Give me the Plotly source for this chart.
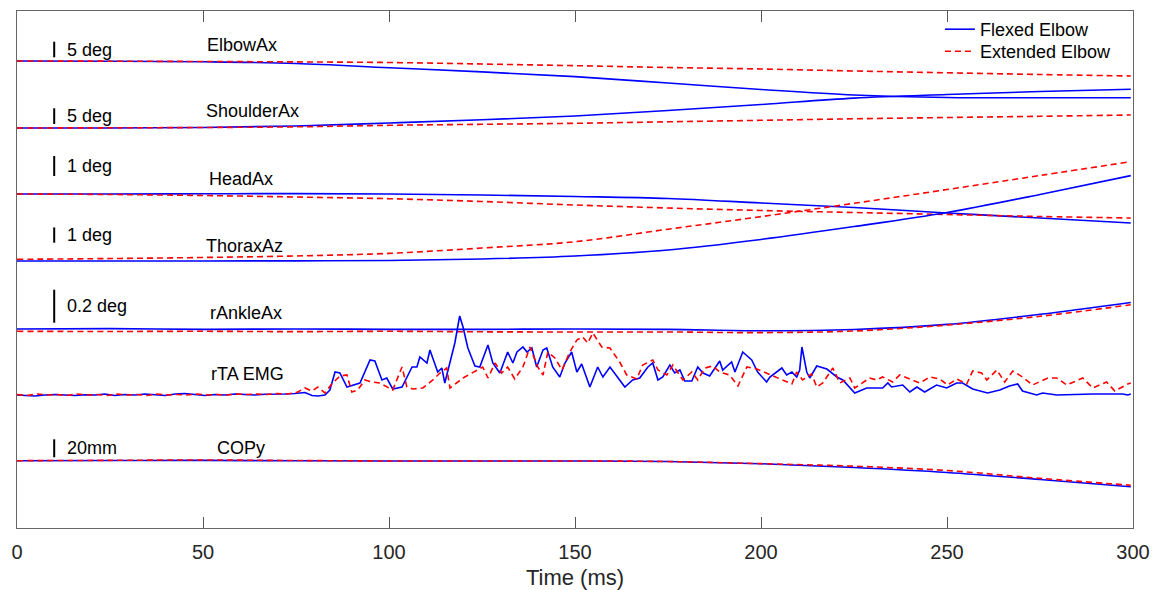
import plotly.graph_objects as go

# ---------------- data ----------------
t_ms = [0, 25, 50, 75, 100, 125, 150, 175, 200, 225, 250, 275, 299.4]

elbow_flexed = [0, -0.06, -0.26, -0.8, -2.15, -3.5, -5.0, -7.05, -9.13, -10.9, -11.7, -11.8, -11.8]
elbow_extended = [0, -0.06, -0.16, -0.29, -0.48, -0.96, -1.5, -2.08, -2.56, -3.2, -3.78, -4.33, -4.8]
shoulder_flexed = [0, 0, 0.16, 0.64, 1.59, 2.61, 3.82, 5.57, 7.48, 9.52, 10.67, 11.62, 12.33]
shoulder_extended = [0, 0.06, 0.16, 0.38, 0.86, 1.18, 1.5, 1.97, 2.45, 2.93, 3.34, 3.73, 4.14]
head_flexed = [0, 0, 0.01, 0.02, 0, -0.05, -0.125, -0.225, -0.45, -0.675, -0.95, -1.2, -1.45]
head_extended = [0, -0.025, -0.075, -0.15, -0.235, -0.375, -0.55, -0.7, -0.825, -0.925, -1.025, -1.125, -1.2]
thorax_flexed = [0, 0, 0, 0.01, 0.03, 0.13, 0.33, 0.72, 1.41, 2.25, 3.17, 4.35, 5.58]
thorax_extended = [0.11, 0.16, 0.23, 0.33, 0.5, 0.85, 1.26, 2.08, 2.9, 3.77, 4.67, 5.59, 6.49]
ankle_flexed = [0, 0.002, -0.002, 0, -0.002, -0.002, 0, -0.002, -0.011, -0.003, 0.028, 0.089, 0.161]
ankle_extended = [-0.014, -0.015, -0.014, -0.016, -0.014, -0.017, -0.018, -0.018, -0.022, -0.012, 0.024, 0.077, 0.147]
cop_flexed = [0, 0.2, 0.4, -0.1, -0.3, -0.3, -0.3, -0.9, -3.4, -7.6, -13.1, -20.9, -28.9]
cop_extended = [0, 0.4, 0.8, 0.2, -0.3, -0.3, -0.3, -0.9, -3.3, -6.1, -10.9, -19.6, -27.3]

emg_t_flexed = [
    0, 2.2, 4.8, 7.5, 10.2, 12.9, 15.6, 18.3, 21.0, 23.6,
    26.3, 29.0, 31.7, 34.4, 37.1, 39.8, 42.5, 45.1, 47.8, 50.5,
    53.2, 55.9, 58.6, 61.3, 64.0, 66.6, 69.3, 72.0, 74.7, 77.4,
    79.3, 80.9, 82.8, 84.1, 85.5, 86.8, 88.7, 92.2, 94.9, 96.2,
    98.1, 99.4, 101.0, 103.5, 106.2, 107.5, 108.3, 110.2, 111.0, 113.1,
    114.2, 115.0, 117.7, 119.0, 119.9, 121.2, 123.1, 124.4, 126.6, 127.9,
    129.8, 131.9, 133.3, 134.4, 136.0, 137.1, 138.4, 139.7, 141.4, 142.4,
    144.0, 145.9, 147.3, 149.1, 150.5, 151.8, 154.0, 156.1, 157.5, 159.4,
    161.2, 163.4, 165.5, 167.4, 169.6, 170.9, 172.3, 173.6, 175.5, 176.8,
    178.2, 179.5, 181.4, 183.0, 184.4, 186.2, 188.9, 189.7, 192.1, 193.0,
    195.1, 197.5, 199.1, 201.5, 202.4, 205.6, 206.9, 208.3, 209.6, 210.4,
    211.0, 212.3, 213.1, 215.0, 217.7, 220.4, 222.0, 225.2, 228.4, 232.7,
    234.1, 235.1, 238.1, 240.0, 241.9, 244.0, 247.2, 249.9, 252.6, 254.2,
    256.9, 260.9, 264.2, 266.8, 269.0, 270.3, 274.1, 275.7, 279.5, 289.2,
    297.2, 298.6, 299.4,
]
emg_flexed = [
    0, -0.5, -1, 0, 0.5, 0, -0.5, 0.3, 0, 1,
    -0.5, 0.5, 0, 1, 0, -0.5, 1, 1.5, 0.5, -0.5,
    0.5, 0, 1, 0.5, 0, 0.7, 0.5, 1, 1.5, 2.5,
    -0.5, -1, 0, 5, 23, 22, 8, 12, 35, 34,
    15, 17, 6, 8, 28, 28, 38, 32, 45, 23,
    27, 12, 52, 79, 68, 47, 29, 28, 50, 32,
    22, 43, 32, 43, 48, 43, 47, 28, 45, 47,
    28, 18, 32, 43, 23, 31, 8, 28, 18, 28,
    19, 8, 15, 17, 28, 32, 15, 18, 30, 22,
    25, 14, 14, 28, 22, 19, 34, 25, 33, 23,
    43, 35, 23, 13, 18, 27, 20, 23, 18, 25,
    48, 23, 17, 29, 26, 18, 15, 2, 7, 7,
    12, 8, 10, 3, 8, 3, 10, 7, 12, 12,
    6, 2, 5, 9, 11, 4, 0, 2, 0, 1,
    1, 0, 1,
]
emg_t_extended = [
    0, 2.7, 5.4, 8.1, 10.7, 13.4, 16.1, 18.8, 21.5, 24.2,
    26.9, 29.6, 32.2, 34.9, 37.6, 40.3, 43.0, 45.7, 48.4, 51.1,
    53.7, 56.4, 59.1, 61.8, 64.5, 67.2, 69.9, 72.6, 75.2, 77.4,
    79.3, 80.9, 82.8, 84.6, 86.8, 88.7, 90.0, 91.6, 93.5, 95.4,
    97.5, 101.0, 103.5, 104.8, 106.4, 109.1, 111.8, 113.7, 115.5, 116.4,
    119.9, 122.5, 125.2, 126.6, 128.5, 130.3, 131.9, 133.8, 136.0, 137.9,
    140.0, 141.4, 142.7, 144.6, 146.5, 148.6, 150.5, 152.1, 153.4, 154.8,
    157.2, 159.4, 162.0, 163.9, 166.6, 168.2, 170.9, 172.3, 174.7, 176.3,
    179.0, 181.4, 183.0, 184.9, 187.0, 188.9, 191.6, 193.8, 196.2, 198.9,
    201.5, 205.8, 208.3, 209.6, 211.2, 213.6, 215.0, 216.6, 219.3, 221.2,
    223.9, 225.2, 229.2, 231.1, 232.7, 235.4, 237.3, 240.0, 242.7, 245.4,
    248.0, 250.2, 252.6, 255.3, 256.9, 259.3, 260.7, 263.4, 265.5, 267.7,
    270.3, 273.0, 277.1, 279.5, 282.2, 286.5, 289.2, 292.9, 295.1, 298.6,
    299.4,
]
emg_extended = [
    0.5, -0.5, 1, 0, 0.5, -0.5, 1, 0, 0.5, -0.5,
    1, 0, 0.5, -0.5, 1, 0, 0.5, 0, 1, 0,
    0.5, 0, 1, 0.5, 1, 0.5, 1.5, 1, 2.5, 7,
    4, 8, 2, 11, 19, 20, 3, 5, 15, 13,
    12, 5, 28, 8, 6, 7, 15, 22, 27, 7,
    17, 22, 28, 17, 32, 22, 28, 16, 28, 48,
    28, 20, 43, 37, 25, 43, 55, 58, 52, 62,
    48, 47, 33, 20, 16, 30, 35, 25, 20, 30,
    15, 23, 15, 27, 29, 23, 20, 9, 28, 26,
    22, 15, 11, 23, 15, 21, 8, 12, 27, 12,
    17, 7, 17, 15, 18, 13, 20, 16, 12, 18,
    16, 10, 16, 11, 24, 22, 15, 25, 13, 24,
    18, 10, 17, 17, 10, 17, 7, 13, 4, 11,
    12,
]

channel_names = ["ElbowAx", "ShoulderAx", "HeadAx", "ThoraxAz", "rAnkleAx", "rTA EMG", "COPy"]
scale_values = [5, 5, 1, 1, 0.2, None, 20]
scale_labels = ["5 deg", "5 deg", "1 deg", "1 deg", "0.2 deg", None, "20mm"]
tick_values = [0, 50, 100, 150, 200, 250, 300]
series_names = ["Flexed Elbow", "Extended Elbow"]

# ---------------- layout / styling (vertical stacking in pixel-like units) ----------------
baseline = [467, 400, 334, 267, 199, 133, 67.3]
bar_len = [15.6, 15.7, 20, 15.3, 33, None, 18]
bar_gap = [3.7, 4, 18, 18.3, 6.3, None, 3.4]
label_dy = [16, 17, 14.7, 15, 15.7, 21, 12.4]
label_x = [50.6, 50.2, 51.1, 50.4, 51.4, 51.5, 53.3]
bar_x = 10
bar_label_x = 13.0

flexed = [elbow_flexed, shoulder_flexed, head_flexed, thorax_flexed, ankle_flexed, emg_flexed, cop_flexed]
extended = [elbow_extended, shoulder_extended, head_extended, thorax_extended, ankle_extended, emg_extended, cop_extended]
times_f = [t_ms] * 5 + [emg_t_flexed, t_ms]
times_e = [t_ms] * 5 + [emg_t_extended, t_ms]

BLUE = "#0000ff"
RED = "#ff0000"
FONT = "Liberation Sans, Arial, sans-serif"

fig = go.Figure()

for i, name in enumerate(channel_names):
    ppu = bar_len[i] / scale_values[i] if scale_values[i] else 1.0
    shape = "linear" if name == "rTA EMG" else "spline"
    yf = [baseline[i] + v * ppu for v in flexed[i]]
    ye = [baseline[i] + v * ppu for v in extended[i]]
    fig.add_trace(go.Scatter(
        x=times_f[i], y=yf, mode="lines", name=series_names[0],
        legend="legend", showlegend=(i == 0),
        line=dict(color=BLUE, width=1.6, shape=shape), hoverinfo="skip"))
    fig.add_trace(go.Scatter(
        x=times_e[i], y=ye, mode="lines", name=series_names[1],
        legend="legend2", showlegend=(i == 0),
        line=dict(color=RED, width=1.6, dash="6px,4px", shape=shape), hoverinfo="skip"))

annotations = []
for i, name in enumerate(channel_names):
    annotations.append(dict(
        x=label_x[i], y=baseline[i] + label_dy[i], xref="x", yref="y",
        text=name, showarrow=False, xanchor="left", yanchor="middle",
        font=dict(family=FONT, size=18, color="#000000")))
    if scale_values[i]:
        y0 = baseline[i] + bar_gap[i]
        y1 = y0 + bar_len[i]
        fig.add_trace(go.Scatter(
            x=[bar_x, bar_x], y=[y0, y1], mode="lines", showlegend=False,
            line=dict(color="#000000", width=2), hoverinfo="skip"))
        annotations.append(dict(
            x=bar_label_x, y=(y0 + y1) / 2, xref="x", yref="y",
            text=scale_labels[i], showarrow=False, xanchor="left", yanchor="middle",
            font=dict(family=FONT, size=18, color="#000000")))

legend_style = dict(
    xanchor="left", yanchor="top",
    bgcolor="rgba(255,255,255,0)", borderwidth=0,
    font=dict(family=FONT, size=18, color="#000000"),
    itemwidth=30,
)

# page body has an 8px default margin, so the figure is sized/margined to compensate
fig.update_layout(
    width=1159, height=582,
    margin=dict(l=9, r=34, t=3, b=62, autoexpand=False),
    paper_bgcolor="white", plot_bgcolor="white",
    font=dict(family=FONT, color="#262626"),
    annotations=annotations,
    legend=dict(x=0.827, y=1.0, **legend_style),
    legend2=dict(x=0.827, y=0.9574, **legend_style),
    xaxis=dict(
        range=[0, 300], tickvals=tick_values, automargin=False,
        ticks="inside", ticklen=11, tickwidth=1, tickcolor="#555555",
        ticklabelstandoff=6,
        showline=True, linecolor="#666666", linewidth=1, mirror="allticks",
        showgrid=False, zeroline=False,
        tickfont=dict(family=FONT, size=20, color="#262626"),
        title=dict(text="Time (ms)", font=dict(family=FONT, size=22, color="#262626"), standoff=8),
    ),
    yaxis=dict(
        range=[0, 517], showticklabels=False, ticks="", automargin=False,
        showline=True, linecolor="#666666", linewidth=1, mirror=True,
        showgrid=False, zeroline=False,
    ),
)

fig.write_html("out.html")
